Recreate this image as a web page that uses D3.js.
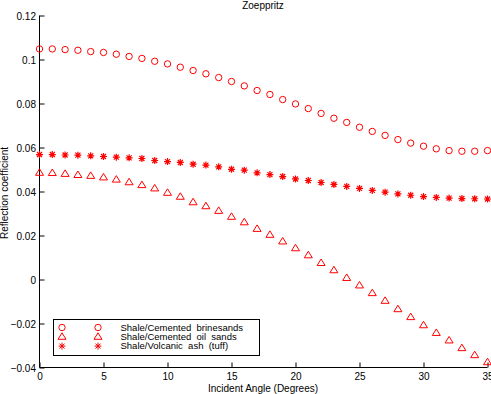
<!DOCTYPE html>
<html>
<head>
<meta charset="utf-8">
<script src="https://cdn.jsdelivr.net/npm/d3@7"></script>
<style>
  body { margin: 0; background: #fff; }
  text { font-family: "Liberation Sans", Arial, sans-serif; font-size: 10px; fill: #000; white-space: pre; }
  .legend text { font-size: 9.5px; }
</style>
</head>
<body>
<div id="chart"></div>
<script>
// incident angles, one point per degree
var angles = d3.range(0, 36);

var brine = [0.1048, 0.1048, 0.1045, 0.1042, 0.1036, 0.1032, 0.1024, 0.1014, 0.1005, 0.0992,
  0.0980, 0.0965, 0.0950, 0.0935, 0.0918, 0.0900, 0.0880, 0.0859, 0.0841, 0.0818,
  0.0798, 0.0777, 0.0755, 0.0733, 0.0714, 0.0692, 0.0673, 0.0655, 0.0636, 0.0620,
  0.0606, 0.0594, 0.0586, 0.0583, 0.0583, 0.0586];

var oil = [0.0485, 0.0484, 0.0480, 0.0475, 0.0471, 0.0464, 0.0454, 0.0442, 0.0429, 0.0414,
  0.0394, 0.0376, 0.0351, 0.0333, 0.0312, 0.0285, 0.0260, 0.0230, 0.0203, 0.0173,
  0.0142, 0.0110, 0.0075, 0.0042, 0.0007, -0.0027, -0.0062, -0.0097, -0.0135, -0.0171,
  -0.0208, -0.0243, -0.0277, -0.0312, -0.0344, -0.0376];

var tuff = [0.0568, 0.0568, 0.0566, 0.0565, 0.0562, 0.0559, 0.0556, 0.0553, 0.0550, 0.0541,
  0.0536, 0.0532, 0.0524, 0.0520, 0.0512, 0.0501, 0.0497, 0.0485, 0.0477, 0.0468,
  0.0457, 0.0450, 0.0441, 0.0432, 0.0423, 0.0414, 0.0405, 0.0397, 0.0389, 0.0383,
  0.0377, 0.0373, 0.0370, 0.0368, 0.0367, 0.0366];

var xTicks = [0, 5, 10, 15, 20, 25, 30, 35];
var yTicks = [-0.04, -0.02, 0, 0.02, 0.04, 0.06, 0.08, 0.1, 0.12];
var legendNames = ["Shale/Cemented  brinesands", "Shale/Cemented  oil  sands", "Shale/Volcanic  ash  (tuff)"];
var titleText = "Zoeppritz";
var xLabel = "Incident Angle (Degrees)";
var yLabel = "Reflection coefficient";

var W = 491, H = 394;
var red = "#ff0000";

var svg = d3.select("#chart").append("svg")
    .attr("width", W)
    .attr("height", H);

var x = d3.scaleLinear().domain([0, 35]).range([39.5, 487.5]);
var y = d3.scaleLinear().domain([-0.04, 0.12]).range([367.5, 15.5]);

function fmt(v) {
    var s = d3.format("")(+v.toFixed(2));
    return s.replace("-", "\u2212");
}

// axes, ticks pointing inward, no box
var xAxis = svg.append("g")
    .attr("class", "xaxis")
    .attr("transform", "translate(0," + y(-0.04) + ")")
    .call(d3.axisTop(x).tickValues(xTicks).tickSize(5).tickFormat(""));
xAxis.selectAll("g.tick").append("text")
    .attr("y", 12.5)
    .attr("text-anchor", "middle")
    .text(function(d) { return d; });
xAxis.select(".domain").attr("d", "M" + x(0) + ",0H" + x(35));

var yAxis = svg.append("g")
    .attr("class", "yaxis")
    .attr("transform", "translate(" + x(0) + ",0)")
    .call(d3.axisRight(y).tickValues(yTicks).tickSize(5).tickFormat(""));
yAxis.selectAll("g.tick").append("text")
    .attr("x", -3.5)
    .attr("dy", "0.35em")
    .attr("text-anchor", "end")
    .text(function(d) { return fmt(d); });
yAxis.select(".domain").attr("d", "M0," + y(0.12) + "V" + y(-0.04));

svg.selectAll(".domain, .tick line").attr("stroke", "#000").attr("stroke-width", 1);

// markers
var triPath = "M0,-4L4,2.5L-4,2.5Z";
var starPath = "M-3.5,0H3.5M0,-3.5V3.5M-2.5,-2.5L2.5,2.5M-2.5,2.5L2.5,-2.5";

function drawCircles(g, vals) {
    g.selectAll("circle").data(vals).enter().append("circle")
        .attr("cx", function(d, i) { return x(angles[i]); })
        .attr("cy", function(d) { return y(d); })
        .attr("r", 3.2)
        .attr("fill", "none")
        .attr("stroke", red);
}
function drawPath(g, vals, p) {
    g.selectAll("path").data(vals).enter().append("path")
        .attr("transform", function(d, i) { return "translate(" + x(angles[i]) + "," + y(d) + ")"; })
        .attr("d", p)
        .attr("fill", "none")
        .attr("stroke", red);
}

drawCircles(svg.append("g"), brine);
drawPath(svg.append("g"), oil, triPath);
drawPath(svg.append("g").attr("stroke-width", 1.2), tuff, starPath);

// title and labels
svg.append("text").attr("x", 263).attr("y", 8.5).attr("text-anchor", "middle").text(titleText);
svg.append("text").attr("x", 263).attr("y", 392).attr("text-anchor", "middle").text(xLabel);
svg.append("text")
    .attr("transform", "translate(8," + 193 + ") rotate(-90)")
    .attr("text-anchor", "middle")
    .text(yLabel);

// legend
var leg = svg.append("g").attr("class", "legend").attr("transform", "translate(53.5,319.5)");
leg.append("rect").attr("width", 206).attr("height", 36)
    .attr("fill", "#fff").attr("stroke", "#000");
var rowsY = [8, 17.3, 26.6];
legendNames.forEach(function(name, i) {
    var row = leg.append("g").attr("transform", "translate(0," + rowsY[i] + ")");
    [8.5, 44.5].forEach(function(mx) {
        if (i === 0) {
            row.append("circle").attr("cx", mx).attr("cy", 0).attr("r", 3.2)
                .attr("fill", "none").attr("stroke", red);
        } else {
            row.append("path").attr("transform", "translate(" + mx + ",0)")
                .attr("d", i === 1 ? triPath : starPath)
                .attr("fill", "none").attr("stroke", red);
        }
    });
    row.append("text").attr("x", 67).attr("dy", "0.35em").text(name);
});
</script>
</body>
</html>
